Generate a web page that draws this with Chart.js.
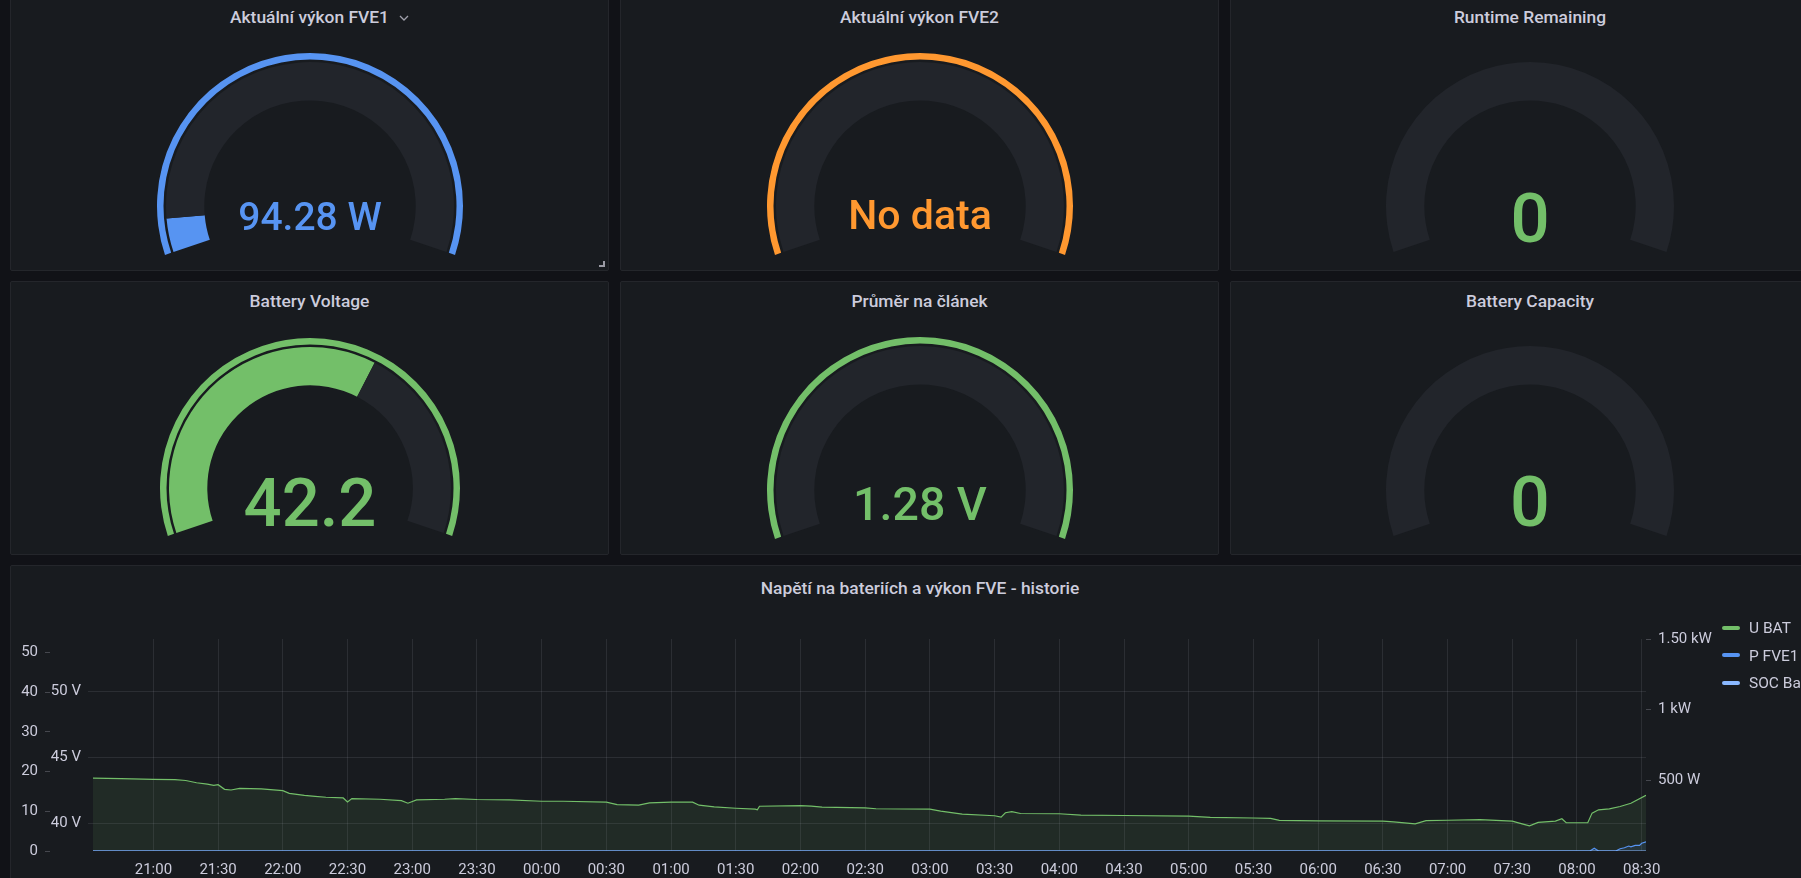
<!DOCTYPE html>
<html>
<head>
<meta charset="utf-8">
<script src="https://cdn.jsdelivr.net/npm/chart.js@4.4.1/dist/chart.umd.min.js"></script>
<style>
  html, body { margin: 0; padding: 0; width: 1801px; height: 878px; overflow: hidden; background: #111217; font-family: Roboto, 'Noto Sans', sans-serif; }
  .panel { position: absolute; background: #181b1f; border: 1px solid #24262b; border-radius: 2px; box-sizing: border-box; }
  .title { position: absolute; left: 0; right: 0; text-align: center; color: #ccccdc; font-size: 17.4px; font-weight: 500; line-height: 20px; white-space: nowrap; }
  .value { position: absolute; white-space: nowrap; font-weight: 500; line-height: 1; transform: translateX(-50%); }
  canvas { position: absolute; }
  .legend { position: absolute; left: 1722px; color: #ccccdc; font-size: 15.5px; line-height: 20px; white-space: nowrap; }
  .legend i { display: inline-block; width: 18px; height: 4px; border-radius: 2px; margin-right: 9px; vertical-align: middle; position: relative; top: -1px; }
</style>
</head>
<body>
<script>
// gauge panels (row by row)
const gaugeTitles = ['Aktuální výkon FVE1', 'Aktuální výkon FVE2', 'Runtime Remaining', 'Battery Voltage', 'Průměr na článek', 'Battery Capacity'];
const gaugeValues = [94.28, null, 0, 42.2, 1.28, 0];
const gaugeTexts = ['94.28 W', 'No data', '0', '42.2', '1.28 V', '0'];
const gaugeMin = [0, 0, 0, 30, 2.5, 0];
const gaugeMax = [1500, 1500, 100, 49.5, 3.65, 100];

// history panel
const timeLabels = ['21:00', '21:30', '22:00', '22:30', '23:00', '23:30', '00:00', '00:30', '01:00', '01:30', '02:00', '02:30',
  '03:00', '03:30', '04:00', '04:30', '05:00', '05:30', '06:00', '06:30', '07:00', '07:30', '08:00', '08:30'];
const uBatTimes = ['20:32', '20:45', '21:00', '21:10', '21:15', '21:20', '21:25', '21:28', '21:30', '21:33', '21:36', '21:40', '21:50',
  '22:00', '22:03', '22:10', '22:15', '22:20', '22:28', '22:30', '22:32', '22:45', '22:55', '22:58', '23:02', '23:15', '23:20',
  '23:30', '23:45', '00:00', '00:10', '00:30', '00:35', '00:45', '00:50', '01:00', '01:10', '01:13', '01:20', '01:30', '01:39',
  '01:40', '01:41', '02:00', '02:05', '02:10', '02:30', '02:35', '03:00', '03:05', '03:15', '03:30', '03:33', '03:35', '03:38',
  '03:42', '04:00', '04:10', '04:30', '05:00', '05:10', '05:30', '05:38', '05:42', '06:00', '06:30', '06:35', '06:45', '06:50',
  '07:00', '07:15', '07:30', '07:35', '07:38', '07:42', '07:50', '07:53', '07:55', '08:05', '08:07', '08:10', '08:15', '08:20',
  '08:25', '08:32'];
const uBatVolts = [43.40, 43.36, 43.30, 43.28, 43.22, 43.05, 42.95, 42.85, 42.90, 42.55, 42.50, 42.62, 42.58,
  42.45, 42.25, 42.10, 42.02, 41.95, 41.90, 41.60, 41.85, 41.80, 41.70, 41.50, 41.75, 41.80, 41.85,
  41.78, 41.76, 41.65, 41.65, 41.58, 41.40, 41.36, 41.52, 41.58, 41.58, 41.35, 41.22, 41.12, 41.05,
  41.00, 41.27, 41.32, 41.28, 41.20, 41.15, 41.08, 41.05, 40.90, 40.68, 40.55, 40.45, 40.78, 40.86,
  40.72, 40.70, 40.60, 40.57, 40.52, 40.43, 40.38, 40.35, 40.20, 40.16, 40.15, 40.08, 39.93, 40.18,
  40.21, 40.26, 40.14, 39.92, 39.78, 40.05, 40.14, 40.32, 40.02, 40.02, 40.75, 41.00, 41.07, 41.25,
  41.50, 42.10];
const pFveTimes = ['20:32', '08:06', '08:08', '08:10', '08:18', '08:20', '08:22', '08:24', '08:25', '08:27', '08:29', '08:30', '08:32'];
const pFveWatts = [0, 0, 20, 0, 0, 16, 23, 35, 30, 40, 40, 55, 65];
const socTimes = ['20:32', '08:32'];
const socPercent = [0, 0];

const socTicks = [0, 10, 20, 30, 40, 50];
const socTickLabels = ['0', '10', '20', '30', '40', '50'];
const voltTicks = [40, 45, 50];
const voltTickLabels = ['40 V', '45 V', '50 V'];
const powerTicks = [500, 1000, 1500];
const powerTickLabels = ['500 W', '1 kW', '1.50 kW'];

// colours
const green = '#73bf69', blue = '#5794f2', orange = '#ff9830', lightBlue = '#8ab8ff';
const trackColor = '#22252b';
const ringColors = [blue, orange, null, green, green, null];
const valueColors = [blue, orange, green, green, green, green];

Chart.defaults.font.family = 'Roboto';

function el(tag, cls, css, text) {
  const e = document.createElement(tag);
  if (cls) e.className = cls;
  Object.assign(e.style, css || {});
  if (text != null) e.textContent = text;
  document.body.appendChild(e);
  return e;
}

// ---- gauge grid ----
const colX = [10, 620, 1230];
const rowY = [-3, 281];
const panelW = 600, panelH = 274;
const gaugeR = [153, 153, 153, 150, 153, 153];
const gaugeCy = [208.5, 208.5, 208.5, 206.7, 208.5, 208.5];
const band = 47.3;          // ring + gap + track thickness
const endDip = 18.6;        // degrees below horizontal at both ends
const sweep = 180 + 2 * endDip;
const valueSize = [39, 41, 69, 67, 46.5, 70];
const valueDrop = [25, 24, 36.5, 38.5, 30.5, 36.5];

gaugeTitles.forEach(function(title, i) {
  const px = colX[i % 3], py = rowY[Math.floor(i / 3)];
  const panel = el('div', 'panel', { left: px + 'px', top: py + 'px', width: (i % 3 === 2 ? 600 : 599) + 'px', height: panelH + 'px' });
  panel.appendChild(el('div', 'title', { top: '9.3px' }, title));

  const R = gaugeR[i];
  const cx = px + panelW / 2, cy = py + gaugeCy[i];
  const h = Math.ceil(R * (1 + Math.sin(endDip * Math.PI / 180)));
  const cv = el('canvas', null, { left: (cx - R) + 'px', top: (cy - R) + 'px', width: 2 * R + 'px', height: h + 'px' });
  cv.width = 2 * R; cv.height = h;

  const v = gaugeValues[i];
  let frac = 0;
  if (v != null) frac = Math.min(Math.max((v - gaugeMin[i]) / (gaugeMax[i] - gaugeMin[i]), 0), 1);

  new Chart(cv, {
    type: 'doughnut',
    data: {
      datasets: [
        { data: [1], backgroundColor: [ringColors[i] || 'rgba(0,0,0,0)'], weight: 6.5 },
        { data: [1], backgroundColor: ['rgba(0,0,0,0)'], weight: 2.5 },
        { data: [frac, 1 - frac], backgroundColor: [valueColors[i], trackColor], weight: 38.3 }
      ]
    },
    options: {
      responsive: false,
      animation: false,
      events: [],
      rotation: 270 - endDip,
      circumference: sweep,
      cutout: ((R - band) / R * 100) + '%',
      borderWidth: 0,
      layout: { padding: 0 },
      plugins: { legend: { display: false }, tooltip: { enabled: false } }
    }
  });

  const fs = valueSize[i];
  const baseline = cy + valueDrop[i];
  el('div', 'value', { left: cx + 'px', top: (baseline - 0.842 * fs) + 'px', fontSize: fs + 'px', color: valueColors[i] }, gaugeTexts[i]);
});

// hover decorations on the first panel
const chev = document.createElementNS('http://www.w3.org/2000/svg', 'svg');
chev.setAttribute('width', '10'); chev.setAttribute('height', '6');
chev.style.cssText = 'position:absolute;left:399px;top:15px;';
chev.innerHTML = '<polyline points="1,1 5,5 9,1" fill="none" stroke="#a0a0ab" stroke-width="1.3"/>';
document.body.appendChild(chev);
el('div', null, { position: 'absolute', left: '599px', top: '261px', width: '4px', height: '4px', borderRight: '2px solid #9a9aa4', borderBottom: '2px solid #9a9aa4' });

// ---- history panel ----
const hist = el('div', 'panel', { left: '10px', top: '565px', width: '1820px', height: '330px' });
hist.appendChild(el('div', 'title', { top: '12px' }, 'Napětí na bateriích a výkon FVE - historie'));

function toMin(t) {
  const p = t.split(':').map(Number);
  let m = p[0] * 60 + p[1];
  if (p[0] < 20) m += 1440;
  return m - 1200;
}
const pts = (times, vals) => times.map((t, k) => ({ x: toMin(t), y: vals[k] }));

const cw = 1820, ch = 275;
const hc = el('canvas', null, { left: '10px', top: '615px', width: cw + 'px', height: ch + 'px' });
hc.width = cw; hc.height = ch;

const tickFont = { size: 15 };
const tickColor = '#ccccdc';
const gridColor = 'rgba(204,204,220,0.11)';
const dashColor = 'rgba(204,204,220,0.25)';

new Chart(hc, {
  type: 'line',
  data: {
    datasets: [
      { label: 'SOC Baterie', data: pts(socTimes, socPercent), yAxisID: 'ySoc', borderColor: lightBlue, borderWidth: 1.2, pointRadius: 0, fill: false, order: 0 },
      { label: 'P FVE1', data: pts(pFveTimes, pFveWatts), yAxisID: 'yPower', borderColor: blue, backgroundColor: 'rgba(87,148,242,0.1)', borderWidth: 1.2, pointRadius: 0, fill: 'start', order: 1 },
      { label: 'U BAT', data: pts(uBatTimes, uBatVolts), yAxisID: 'yVolt', borderColor: green, backgroundColor: 'rgba(115,191,105,0.1)', borderWidth: 1.2, pointRadius: 0, fill: 'start', order: 2 }
    ]
  },
  options: {
    responsive: false,
    animation: false,
    events: [],
    layout: { padding: { left: 0, top: 24, right: 114, bottom: 0 } },
    plugins: { legend: { display: false }, tooltip: { enabled: false } },
    scales: {
      x: {
        type: 'linear', min: toMin('20:32'), max: toMin('08:32'),
        afterBuildTicks: function(a) { a.ticks = timeLabels.map(t => ({ value: toMin(t) })); },
        afterFit: function(s) { s.height = 39; },
        ticks: { callback: (val, k) => timeLabels[k], color: tickColor, font: tickFont, padding: 10, autoSkip: false, maxRotation: 0 },
        grid: { color: gridColor, drawTicks: false },
        border: { display: false }
      },
      yVolt: {
        position: 'left', min: 37.88, max: 53.94,
        afterBuildTicks: function(a) { a.ticks = voltTicks.map(v => ({ value: v })); },
        afterFit: function(s) { s.width = 43; },
        ticks: { callback: (val, k) => voltTickLabels[k], color: tickColor, font: tickFont, padding: 7 },
        grid: { color: gridColor, tickLength: 5 },
        border: { display: false }
      },
      ySoc: {
        position: 'left', min: 0, max: 53.4,
        afterBuildTicks: function(a) { a.ticks = socTicks.map(v => ({ value: v })); },
        afterFit: function(s) { s.width = 40; },
        ticks: { callback: (val, k) => socTickLabels[k], color: tickColor, font: tickFont, padding: 7 },
        grid: { drawOnChartArea: false, color: dashColor, tickLength: 5 },
        border: { display: false }
      },
      yPower: {
        position: 'right', min: 0, max: 1500,
        afterBuildTicks: function(a) { a.ticks = powerTicks.map(v => ({ value: v })); },
        afterFit: function(s) { s.width = 70; },
        ticks: { callback: (val, k) => powerTickLabels[k], color: tickColor, font: tickFont, padding: 7 },
        grid: { drawOnChartArea: false, color: dashColor, tickLength: 5 },
        border: { display: false }
      }
    }
  }
});

// legend on the right, as in the dashboard
[['U BAT', green], ['P FVE1', blue], ['SOC Baterie', lightBlue]].forEach(function(item, k) {
  const row = el('div', 'legend', { top: (618 + k * 27.5) + 'px' });
  const sw = document.createElement('i');
  sw.style.background = item[1];
  row.appendChild(sw);
  row.appendChild(document.createTextNode(item[0]));
});
</script>
</body>
</html>
